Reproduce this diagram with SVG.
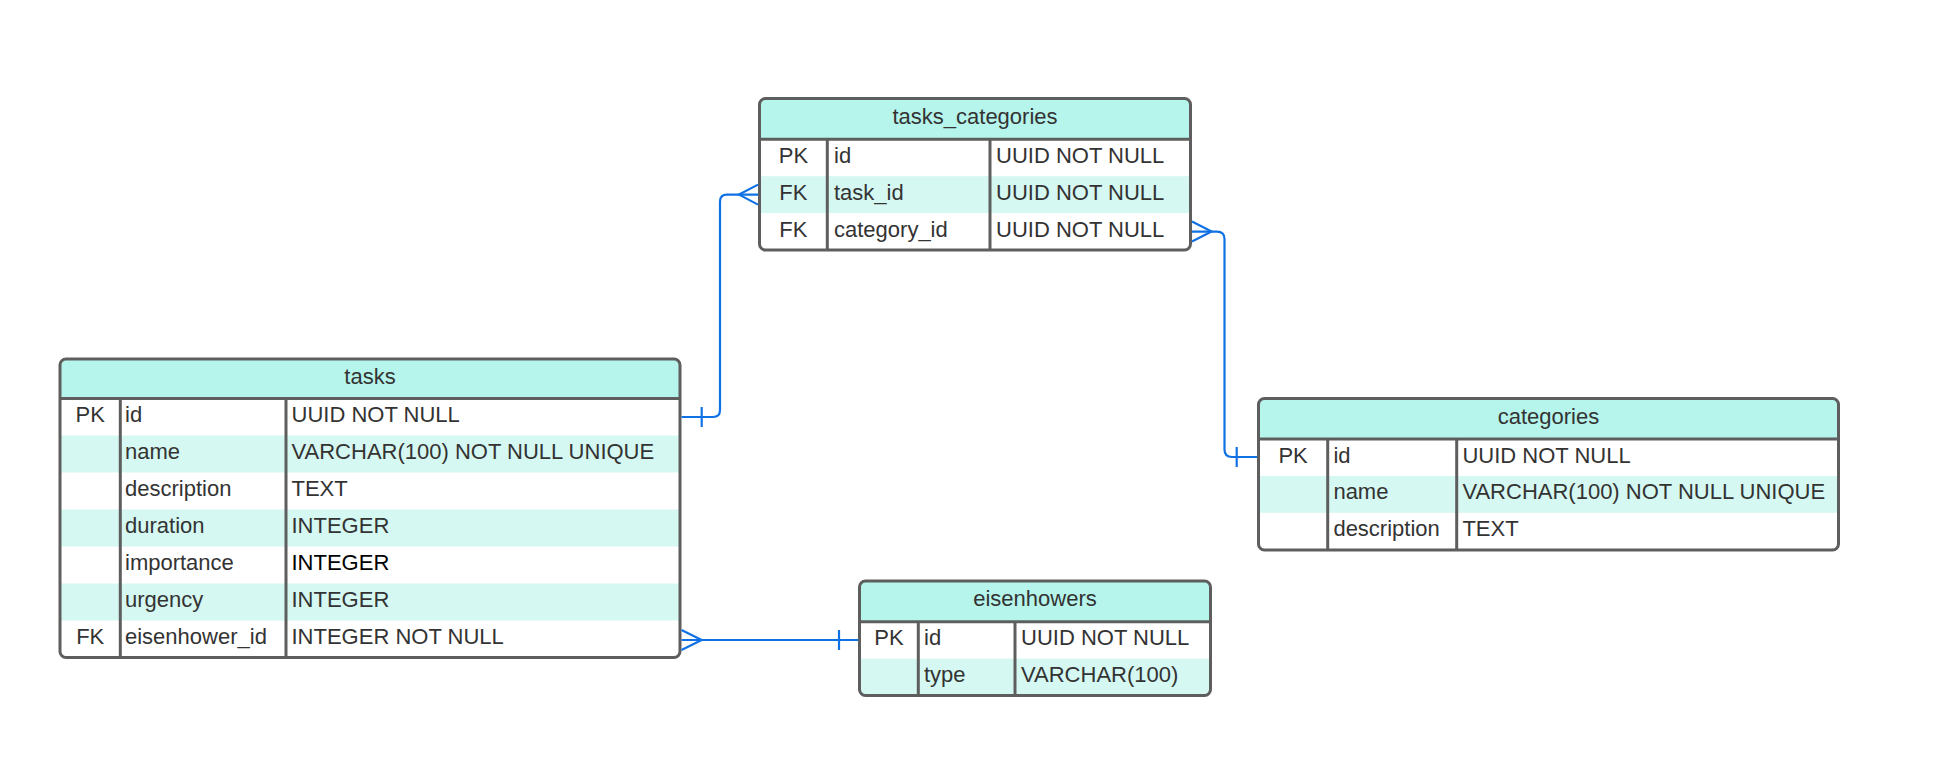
<svg xmlns="http://www.w3.org/2000/svg" width="1949" height="770" viewBox="0 0 1949 770">
<style>
.frame{fill:none;stroke:#5e5e5e;stroke-width:3}
.div{stroke:#5e5e5e;stroke-width:3}
.hdr{fill:#b6f5eb}
.stripe{fill:#d6f8f2}
.bg{fill:#ffffff}
text{font-family:"Liberation Sans",Arial,sans-serif;font-size:22px;fill:#333333}
.c{text-anchor:middle}
.blk{fill:#000000}
.conn{fill:none;stroke:#1071e5;stroke-width:2.2}
</style>
<defs>
<clipPath id="clipTC"><rect x="759.5" y="98.5" width="431" height="151.5" rx="6"/></clipPath>
<clipPath id="clipT"><rect x="60" y="359" width="620" height="298.5" rx="6"/></clipPath>
<clipPath id="clipC"><rect x="1258.5" y="398.5" width="580" height="151.5" rx="6"/></clipPath>
<clipPath id="clipE"><rect x="859.5" y="581" width="351" height="114.5" rx="6"/></clipPath>
</defs>
<rect width="1949" height="770" fill="#ffffff"/>

<g id="tasks_categories">
<g clip-path="url(#clipTC)">
<rect class="bg" x="759.5" y="98.5" width="431" height="151.5"/>
<rect class="hdr" x="759.5" y="98.5" width="431" height="40.8"/>
<rect class="stripe" x="759.5" y="176.2" width="431" height="36.9"/>
</g>
<line class="div" x1="759.5" y1="139.3" x2="1190.5" y2="139.3"/>
<line class="div" x1="827.3" y1="139.3" x2="827.3" y2="250"/>
<line class="div" x1="990" y1="139.3" x2="990" y2="250"/>
<rect class="frame" x="759.5" y="98.5" width="431" height="151.5" rx="6"/>
<text class="c" x="975" y="123.5">tasks_categories</text>
<text class="c" x="793.4" y="162.8">PK</text>
<text x="834" y="162.8">id</text>
<text x="996" y="162.8">UUID NOT NULL</text>
<text class="c" x="793.4" y="199.7">FK</text>
<text x="834" y="199.7">task_id</text>
<text x="996" y="199.7">UUID NOT NULL</text>
<text class="c" x="793.4" y="236.6">FK</text>
<text x="834" y="236.6">category_id</text>
<text x="996" y="236.6">UUID NOT NULL</text>
</g>

<g id="tasks">
<g clip-path="url(#clipT)">
<rect class="bg" x="60" y="359" width="620" height="298.5"/>
<rect class="hdr" x="60" y="359" width="620" height="39.5"/>
<rect class="stripe" x="60" y="435.5" width="620" height="37"/>
<rect class="stripe" x="60" y="509.5" width="620" height="37"/>
<rect class="stripe" x="60" y="583.5" width="620" height="37"/>
</g>
<line class="div" x1="60" y1="398.5" x2="680" y2="398.5"/>
<line class="div" x1="120.3" y1="398.5" x2="120.3" y2="657.5"/>
<line class="div" x1="286" y1="398.5" x2="286" y2="657.5"/>
<rect class="frame" x="60" y="359" width="620" height="298.5" rx="6"/>
<text class="c" x="370" y="383.5">tasks</text>
<text class="c" x="90.2" y="422">PK</text>
<text x="125" y="422">id</text>
<text x="291.5" y="422">UUID NOT NULL</text>
<text x="125" y="459">name</text>
<text x="291.5" y="459">VARCHAR(100) NOT NULL UNIQUE</text>
<text x="125" y="496">description</text>
<text x="291.5" y="496">TEXT</text>
<text x="125" y="533">duration</text>
<text x="291.5" y="533">INTEGER</text>
<text x="125" y="570">importance</text>
<text class="blk" x="291.5" y="570">INTEGER</text>
<text x="125" y="607">urgency</text>
<text x="291.5" y="607">INTEGER</text>
<text class="c" x="90.2" y="644">FK</text>
<text x="125" y="644">eisenhower_id</text>
<text x="291.5" y="644">INTEGER NOT NULL</text>
</g>

<g id="categories">
<g clip-path="url(#clipC)">
<rect class="bg" x="1258.5" y="398.5" width="580" height="151.5"/>
<rect class="hdr" x="1258.5" y="398.5" width="580" height="40.5"/>
<rect class="stripe" x="1258.5" y="475.9" width="580" height="36.9"/>
</g>
<line class="div" x1="1258.5" y1="439" x2="1838.5" y2="439"/>
<line class="div" x1="1327.7" y1="439" x2="1327.7" y2="550"/>
<line class="div" x1="1456.7" y1="439" x2="1456.7" y2="550"/>
<rect class="frame" x="1258.5" y="398.5" width="580" height="151.5" rx="6"/>
<text class="c" x="1548.5" y="423.5">categories</text>
<text class="c" x="1293.1" y="462.5">PK</text>
<text x="1333.4" y="462.5">id</text>
<text x="1462.4" y="462.5">UUID NOT NULL</text>
<text x="1333.4" y="499.4">name</text>
<text x="1462.4" y="499.4">VARCHAR(100) NOT NULL UNIQUE</text>
<text x="1333.4" y="536.3">description</text>
<text x="1462.4" y="536.3">TEXT</text>
</g>

<g id="eisenhowers">
<g clip-path="url(#clipE)">
<rect class="bg" x="859.5" y="581" width="351" height="114.5"/>
<rect class="hdr" x="859.5" y="581" width="351" height="40.7"/>
<rect class="stripe" x="859.5" y="658.6" width="351" height="37"/>
</g>
<line class="div" x1="859.5" y1="621.7" x2="1210.5" y2="621.7"/>
<line class="div" x1="918.3" y1="621.7" x2="918.3" y2="695.5"/>
<line class="div" x1="1015" y1="621.7" x2="1015" y2="695.5"/>
<rect class="frame" x="859.5" y="581" width="351" height="114.5" rx="6"/>
<text class="c" x="1035" y="606">eisenhowers</text>
<text class="c" x="888.9" y="645.2">PK</text>
<text x="924" y="645.2">id</text>
<text x="1021" y="645.2">UUID NOT NULL</text>
<text x="924" y="682.1">type</text>
<text x="1021" y="682.1">VARCHAR(100)</text>
</g>

<g id="connectors">
<path class="conn" d="M681.5 417 H713 Q720 417 720 410 V201.5 Q720 194.6 727 194.6 H758"/>
<path class="conn" d="M701.7 407 V427"/>
<path class="conn" d="M758 184.6 L739 194.6 L758 204.6"/>
<path class="conn" d="M1192 231.6 H1217 Q1224.5 231.6 1224.5 239 V449.5 Q1224.5 457 1232 457 H1257"/>
<path class="conn" d="M1236.7 447 V467"/>
<path class="conn" d="M1192 221.6 L1211.5 231.6 L1192 241.6"/>
<path class="conn" d="M681.5 640 H858"/>
<path class="conn" d="M681.5 630 L701.7 640 L681.5 650"/>
<path class="conn" d="M839 630 V650"/>
</g>
</svg>
